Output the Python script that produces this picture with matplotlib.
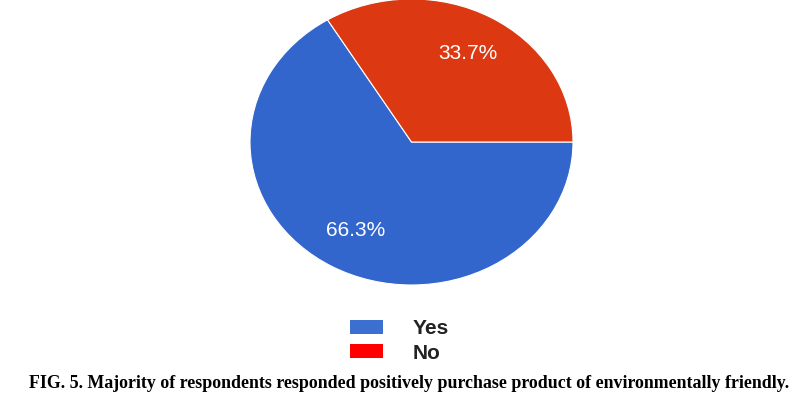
import matplotlib
matplotlib.use("Agg")
import matplotlib.pyplot as plt
from matplotlib.patches import Patch

# answers to the survey question
labels = ["Yes", "No"]
shares = [66.3, 33.7]
pie_colors = ["#3366cc", "#dc3912"]
legend_colors = ["#3c6fcf", "#ff0000"]
caption = "FIG. 5. Majority of respondents responded positively purchase product of environmentally friendly."

fig = plt.figure(figsize=(8.06, 3.99), dpi=100)
fig.patch.set_facecolor("white")

# pie is a bit wider than tall in the original, so no equal aspect
ax = fig.add_axes([250 / 806, 114 / 399, 323 / 806, 286 / 399])

# "No" slice starts at 3 o'clock going counter-clockwise
start = shares[1] / sum(shares) * 360
wedges, texts, autotexts = ax.pie(
    shares, colors=pie_colors, startangle=start, counterclock=True,
    radius=1, autopct="%.1f%%", pctdistance=0.71,
    wedgeprops=dict(edgecolor="white", linewidth=0.8),
    textprops=dict(color="white", fontsize=15, family="Liberation Sans"),
    frame=True,
)
ax.set_xlim(-1, 1)
ax.set_ylim(-1, 1)
ax.set_aspect("auto")
ax.axis("off")

handles = [Patch(facecolor=c, edgecolor="none") for c in legend_colors]
fig.legend(handles, labels, loc="center", bbox_to_anchor=(399 / 806, 1 - 341 / 399),
           frameon=False, handlelength=1.6, handleheight=0.63, handletextpad=1.4,
           labelspacing=0.25, prop=dict(family="Liberation Sans", size=15, weight="bold"),
           labelcolor="#222222")

fig.text(409 / 806, 1 - 383 / 399, caption, ha="center", va="center",
         family="Liberation Serif", weight="bold", fontsize=12.9)

fig.savefig("out.png", dpi=100)
